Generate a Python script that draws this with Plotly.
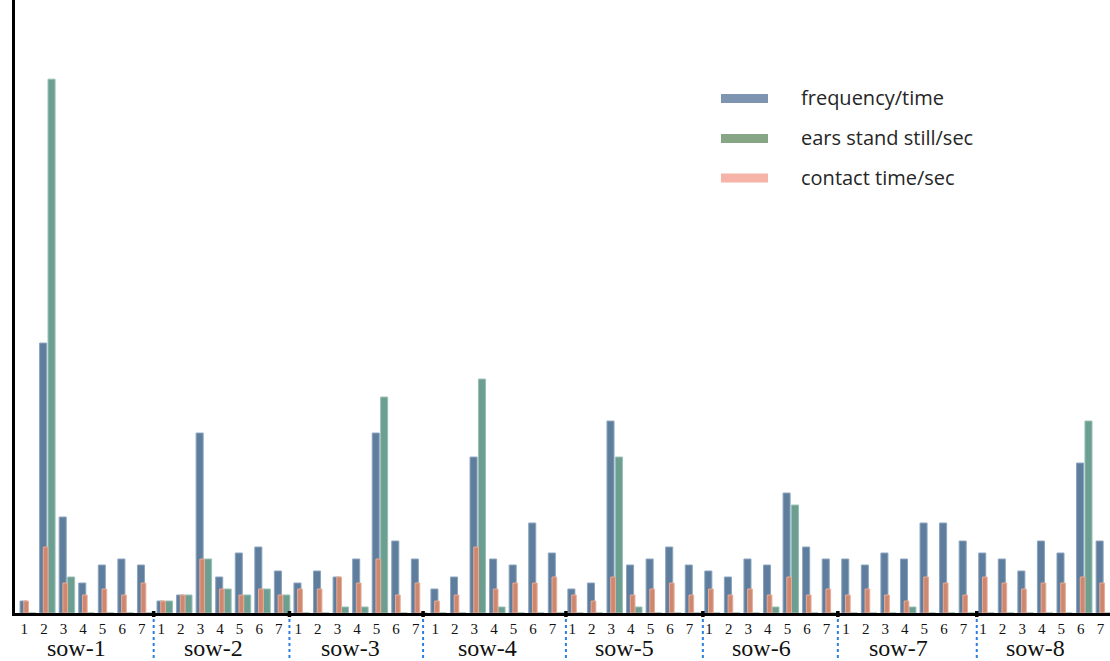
import plotly.graph_objects as go

# Eight sows, each observed over seven days
sows = ["sow-1", "sow-2", "sow-3", "sow-4", "sow-5", "sow-6", "sow-7", "sow-8"]
days = ["1", "2", "3", "4", "5", "6", "7"]

# frequency/time, per sow (days 1-7)
frequency = [
    [2, 45, 16, 5, 8, 9, 8],
    [2, 3, 30, 6, 10, 11, 7],
    [5, 7, 6, 9, 30, 12, 9],
    [4, 6, 26, 9, 8, 15, 10],
    [4, 5, 32, 8, 9, 11, 8],
    [7, 6, 9, 8, 20, 11, 9],
    [9, 8, 10, 9, 15, 15, 12],
    [10, 9, 7, 12, 10, 25, 12],
]
# ears stand still/sec
ears_still = [
    [0, 89, 6, 0, 0, 0, 0],
    [2, 3, 9, 4, 3, 4, 3],
    [0, 0, 1, 1, 36, 0, 0],
    [0, 0, 39, 1, 0, 0, 0],
    [0, 0, 26, 1, 0, 0, 0],
    [0, 0, 0, 1, 18, 0, 0],
    [0, 0, 0, 1, 0, 0, 0],
    [0, 0, 0, 0, 0, 32, 0],
]
# contact time/sec
contact = [
    [2, 11, 5, 3, 4, 3, 5],
    [2, 3, 9, 4, 3, 4, 3],
    [4, 4, 6, 5, 9, 3, 5],
    [2, 3, 11, 4, 5, 5, 6],
    [3, 2, 6, 3, 4, 5, 3],
    [4, 3, 4, 3, 6, 3, 4],
    [3, 4, 3, 2, 6, 5, 3],
    [6, 5, 4, 5, 5, 6, 5],
]
series_names = ["frequency/time", "ears stand still/sec", "contact time/sec"]

n_days = len(days)
x = [s * n_days + d for s in range(len(sows)) for d in range(n_days)]
flat = lambda rows: [v for row in rows for v in row]

BLUE, BLUE_EDGE = "#5f7d9c", "#8aa4bf"
GREEN, GREEN_EDGE = "#6c9e91", "#97c0b5"
SALMON, SALMON_EDGE = "#cd8871", "#eaab95"

fig = go.Figure()
fig.add_trace(go.Bar(x=x, y=flat(frequency), name=series_names[0],
                     offset=-0.40, width=0.36,
                     marker=dict(color=BLUE, line=dict(color=BLUE_EDGE, width=1))))
fig.add_trace(go.Bar(x=x, y=flat(ears_still), name=series_names[1],
                     offset=0.03, width=0.36,
                     marker=dict(color=GREEN, line=dict(color=GREEN_EDGE, width=1))))
fig.add_trace(go.Bar(x=x, y=flat(contact), name=series_names[2],
                     offset=-0.21, width=0.24,
                     marker=dict(color=SALMON, line=dict(color=SALMON_EDGE, width=1))))

W, H = 1110, 661
ML, MR, MT, MB = 15, 0, 0, 48
PW, PH = W - ML - MR, H - MT - MB


def px(xp):
    return (xp - ML) / PW


def py(yp):
    return 1 - (yp - MT) / PH


shapes = []
annotations = []

# dotted separators between sows, with a small tick mark on the axis
separators = [6.43, 13.37, 20.2, 27.5, 34.5, 41.4, 48.5]
for sx in separators:
    shapes.append(dict(type="line", xref="x", yref="paper", x0=sx, x1=sx,
                       y0=0, y1=py(H), line=dict(color="#2b7fe0", width=2, dash="dot")))
    shapes.append(dict(type="rect", xref="x", yref="paper", x0=sx - 0.09, x1=sx + 0.09,
                       y0=py(617), y1=py(611), fillcolor="black", line=dict(width=0)))

# sow group labels
for k, name in enumerate(sows):
    annotations.append(dict(x=k * n_days + 2.5, y=py(662), xref="x", yref="paper",
                            text=name, showarrow=False, xanchor="center", yanchor="bottom",
                            borderpad=0,
                            font=dict(family="Liberation Serif", size=24, color="#111")))

# legend drawn as wide swatches with text
legend_rows = [(98.5, "#7e95b2"), (138.5, "#86a686"), (178.0, "#f6b3a7")]
for (yc, col), label in zip(legend_rows, series_names):
    shapes.append(dict(type="rect", xref="paper", yref="paper",
                       x0=px(721), x1=px(768), y0=py(yc + 4.5), y1=py(yc - 4.5),
                       fillcolor=col, line=dict(width=0)))
    annotations.append(dict(x=px(799), y=py(yc - 1), xref="paper", yref="paper",
                            text=label, showarrow=False, xanchor="left", yanchor="middle",
                            font=dict(family="Open Sans", size=20, color="#262626")))

fig.update_layout(
    width=W, height=H,
    margin=dict(l=ML, r=MR, t=MT, b=MB),
    barmode="overlay",
    showlegend=False,
    plot_bgcolor="white", paper_bgcolor="white",
    shapes=shapes, annotations=annotations,
    xaxis=dict(range=[-0.658, 55.31], showgrid=False, zeroline=False,
               showline=True, linecolor="black", linewidth=3,
               tickmode="array", tickvals=[i - 0.18 for i in x],
               ticktext=[days[i % n_days] for i in x],
               ticks="", ticklen=0,
               tickfont=dict(family="Liberation Serif", size=15, color="#111")),
    yaxis=dict(range=[0, 102.2], showgrid=False, zeroline=False,
               showline=True, linecolor="black", linewidth=2.5,
               showticklabels=False, ticks=""),
)

fig.write_html("out.html")
